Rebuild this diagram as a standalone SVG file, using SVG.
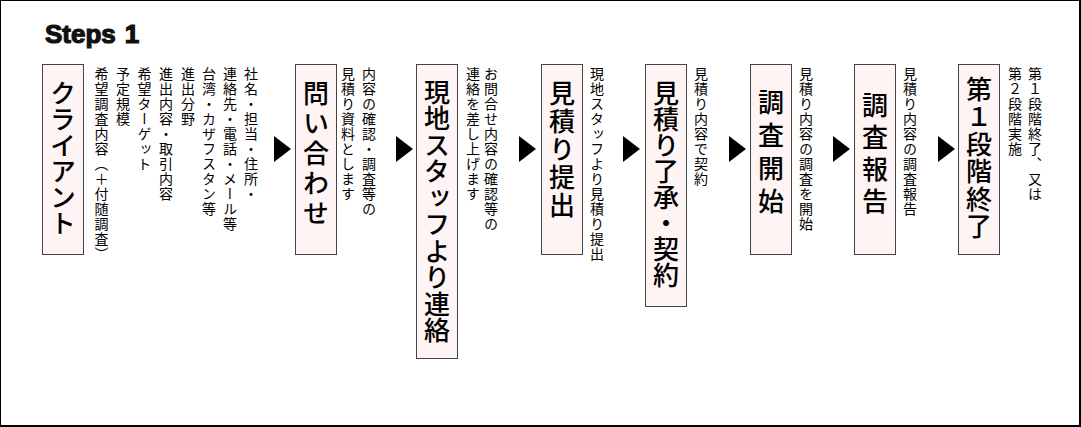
<svg xmlns="http://www.w3.org/2000/svg" width="1081" height="427" viewBox="0 0 1081 427">
<style>
.frame{fill:#fff;stroke:#000;stroke-width:1}
.box{fill:#fff4f4;stroke:#444;stroke-width:1}
.big{font-family:"Noto Sans CJK JP","Noto Sans CJK SC",sans-serif;font-size:26px;font-weight:500;fill:#000;writing-mode:vertical-rl}
.small{font-family:"Noto Sans CJK JP","Noto Sans CJK SC",sans-serif;font-size:14px;fill:#000;writing-mode:vertical-rl;letter-spacing:1px}
.title{font-family:"Liberation Sans",Arial,sans-serif;font-size:26px;font-weight:bold;fill:#111;stroke:#111;stroke-width:1.2}
.arrow{fill:#000}
</style>
<defs>
<path id="tri" d="M0,0 L17,13 L0,26 Z"/>
</defs>
<rect x="0.5" y="0.5" width="1079" height="425" class="frame"/>
<line x1="1080" y1="0" x2="1080" y2="427" stroke="#000" stroke-width="2"/>
<line x1="0" y1="426" x2="1081" y2="426" stroke="#000" stroke-width="2"/>
<text x="45" y="43" class="title">Steps<tspan dx="9">1</tspan></text>

<g id="connectors">
<use href="#tri" x="274" y="136" class="arrow"/>
<use href="#tri" x="396" y="136" class="arrow"/>
<use href="#tri" x="519" y="136" class="arrow"/>
<use href="#tri" x="623" y="136" class="arrow"/>
<use href="#tri" x="729" y="136" class="arrow"/>
<use href="#tri" x="833" y="136" class="arrow"/>
<use href="#tri" x="938" y="136" class="arrow"/>
</g>

<g id="client">
<rect x="42.5" y="64.5" width="41" height="190" class="box"/>
<text x="63" y="80" class="big">クライアント</text>
<text x="251" y="67" class="small">社名・担当・住所・</text>
<text x="230" y="67" class="small">連絡先・電話・メール等</text>
<text x="209" y="67" class="small">台湾・カザフスタン等</text>
<text x="188" y="67" class="small">進出分野</text>
<text x="166" y="67" class="small">進出内容・取引内容</text>
<text x="144.5" y="67" class="small">希望ターゲット</text>
<text x="123" y="67" class="small">予定規模</text>
<text x="101.5" y="67" class="small">希望調査内容（＋付随調査）</text>
</g>

<g id="inquiry">
<rect x="295.5" y="64.5" width="41" height="190" class="box"/>
<text x="316" y="80" class="big" letter-spacing="4">問い合わせ</text>
<text x="369" y="67" class="small">内容の確認・調査等の</text>
<text x="348" y="67" class="small">見積り資料とします</text>
</g>

<g id="contact">
<rect x="416.5" y="64.5" width="41" height="294" class="box"/>
<text x="437" y="79" class="big" letter-spacing="0.5">現地スタッフより連絡</text>
<text x="491" y="67" class="small">お問合せ内容の確認等の</text>
<text x="473" y="67" class="small">連絡を差し上げます</text>
</g>

<g id="estimate">
<rect x="541.5" y="64.5" width="41" height="190" class="box"/>
<text x="562" y="80" class="big" letter-spacing="2">見積り提出</text>
<text x="597" y="67" class="small">現地スタッフより見積り提出</text>
</g>

<g id="contract">
<rect x="645.5" y="64.5" width="41" height="242" class="box"/>
<text x="666" y="80" class="big">見積り了承・契約</text>
<text x="701" y="67" class="small">見積り内容で契約</text>
</g>

<g id="survey-start">
<rect x="750.5" y="64.5" width="41" height="190" class="box"/>
<text x="771" y="89" class="big" letter-spacing="7">調査開始</text>
<text x="806" y="67" class="small">見積り内容の調査を開始</text>
</g>

<g id="survey-report">
<rect x="854.5" y="64.5" width="41" height="190" class="box"/>
<text x="875" y="92" class="big" letter-spacing="6">調査報告</text>
<text x="910" y="67" class="small">見積り内容の調査報告</text>
</g>

<g id="stage-end">
<rect x="958.5" y="64.5" width="41" height="190" class="box"/>
<text x="979" y="76" class="big" letter-spacing="1.5">第１段階終了</text>
<text x="1035" y="67" class="small">第１段階終了、又は</text>
<text x="1015" y="67" class="small">第２段階実施</text>
</g>
</svg>
